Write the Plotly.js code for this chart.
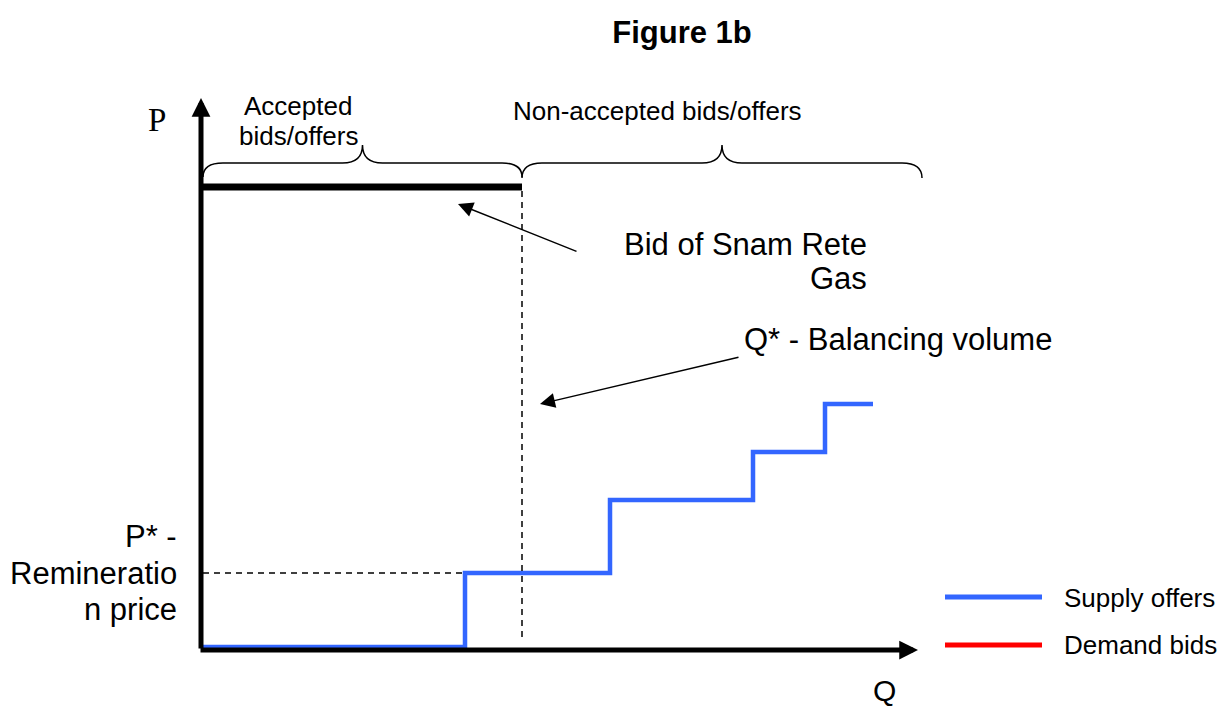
<!DOCTYPE html>
<html>
<head>
<meta charset="utf-8">
<script src="https://cdn.plot.ly/plotly-3.0.1.min.js"></script>
<style>html,body{margin:0;padding:0;background:#fff;}#chart{width:1230px;height:711px;}</style>
</head>
<body>
<div id="chart"></div>
<script>
// ---- data (Q and P in diagram units) ----
const supplyQ = [0, 262, 407, 550, 622, 670];
const supplyP = [0, 74, 147, 195, 243, 243];
const qStar = 319;          // balancing volume
const pStar = 74;           // remuneration price
const bidPrice = 460;       // bid of Snam Rete Gas
const qAxisMax = 715;
const pAxisMax = 549;
const nonAcceptedEnd = 719;
const seriesNames = ['Supply offers', 'Demand bids'];
const seriesColors = ['#3366FF', '#FF0000'];

const SANS = 'Liberation Sans, Arial, sans-serif';
const SERIF = 'Liberation Serif, Times New Roman, serif';

const traces = [
  { // supply step curve
    x: supplyQ, y: supplyP, mode: 'lines', line: {shape: 'hv', color: seriesColors[0], width: 4.5},
    name: seriesNames[0], showlegend: false, hoverinfo: 'skip'
  },
  { // demand bids (no points in this figure)
    x: [], y: [], mode: 'lines', line: {color: seriesColors[1], width: 4.5},
    name: seriesNames[1], showlegend: false, hoverinfo: 'skip'
  },
  { // bid of Snam Rete Gas
    x: [0, qStar], y: [bidPrice, bidPrice], mode: 'lines', line: {color: '#000', width: 7},
    showlegend: false, hoverinfo: 'skip'
  },
  { // Q* dashed vertical
    x: [qStar, qStar], y: [10, bidPrice], mode: 'lines', line: {color: '#000', width: 1.5, dash: '6px,5px'},
    showlegend: false, hoverinfo: 'skip'
  },
  { // P* dashed horizontal
    x: [0, supplyQ[1]], y: [pStar, pStar], mode: 'lines', line: {color: '#000', width: 1.5, dash: '6px,5px'},
    showlegend: false, hoverinfo: 'skip'
  }
];

function brace(x0, x1, yBase, yFlat, yTip, r) {
  const xm = (x0 + x1) / 2;
  return `M ${x0},${yBase} Q ${x0},${yFlat} ${x0 + r},${yFlat} L ${xm - r},${yFlat} ` +
         `Q ${xm},${yFlat} ${xm},${yTip} Q ${xm},${yFlat} ${xm + r},${yFlat} ` +
         `L ${x1 - r},${yFlat} Q ${x1},${yFlat} ${x1},${yBase}`;
}

const shapes = [
  {type: 'path', xref: 'x', yref: 'y', path: brace(0, qStar, 470, 484, 502, 20), line: {color: '#000', width: 1.5}},
  {type: 'path', xref: 'x', yref: 'y', path: brace(qStar, nonAcceptedEnd, 469, 484, 502, 20), line: {color: '#000', width: 1.5}},
  // legend lines
  {type: 'line', xref: 'x', yref: 'y', x0: 742, x1: 839, y0: 50, y1: 50, line: {color: seriesColors[0], width: 5}},
  {type: 'line', xref: 'x', yref: 'y', x0: 742, x1: 839, y0: 2, y1: 2, line: {color: seriesColors[1], width: 5}}
];

function txt(text, x, y, size, opts) {
  return Object.assign({text: text, x: x, y: y, xref: 'x', yref: 'y', showarrow: false,
    font: {family: SANS, size: size, color: '#000'}, xanchor: 'center', yanchor: 'middle'}, opts || {});
}
function arrow(xTip, yTip, xTail, yTail, w, size) {
  return {text: '', x: xTip, y: yTip, ax: xTail, ay: yTail, xref: 'x', yref: 'y', axref: 'x', ayref: 'y',
    showarrow: true, arrowhead: 2, arrowwidth: w, arrowsize: size, arrowcolor: '#000', standoff: 0, startstandoff: 0};
}

const annotations = [
  // axes with arrowheads
  arrow(-2, pAxisMax, -2, -3, 5, 0.75),
  arrow(qAxisMax, -3, -4, -3, 5, 0.75),
  // pointer arrows
  arrow(255, 443, 375, 395, 1.5, 2),
  arrow(337, 243, 537, 290, 1.5, 2),
  // axis labels
  txt('P', -46, 527, 33, {font: {family: SERIF, size: 33, color: '#000'}}),
  txt('Q', 681, -43, 30),
  // brace labels
  txt('Accepted', 95, 541, 26),
  txt('bids/offers', 95, 511, 26),
  txt('Non-accepted bids/offers', 454, 536, 26),
  // pointer labels
  txt('Bid of Snam Rete', 666, 403, 31, {xanchor: 'right'}),
  txt('Gas', 666, 369, 31, {xanchor: 'right'}),
  txt('Q* - Balancing volume', 539, 308, 31, {xanchor: 'left'}),
  // P* label
  txt('P* -', -24, 111, 31, {xanchor: 'right'}),
  txt('Remineratio', -24, 74, 31, {xanchor: 'right'}),
  txt('n price', -24, 38, 31, {xanchor: 'right'}),
  // legend text
  txt(seriesNames[0], 859, 49, 26, {xanchor: 'left'}),
  txt(seriesNames[1], 859, 2, 26, {xanchor: 'left'})
];

const layout = {
  width: 1230, height: 711,
  margin: {l: 0, r: 0, t: 0, b: 0},
  paper_bgcolor: '#fff', plot_bgcolor: '#fff',
  title: {text: '<b>Figure 1b</b>', x: 682 / 1230, y: 1 - 32 / 711, xref: 'container', yref: 'container',
    xanchor: 'center', yanchor: 'middle', font: {family: SANS, size: 31, color: '#000'}},
  xaxis: {range: [-203, 1027], visible: false, fixedrange: true},
  yaxis: {range: [-64, 647], visible: false, fixedrange: true},
  showlegend: false,
  shapes: shapes,
  annotations: annotations
};

Plotly.newPlot('chart', traces, layout, {staticPlot: true});
</script>
</body>
</html>
